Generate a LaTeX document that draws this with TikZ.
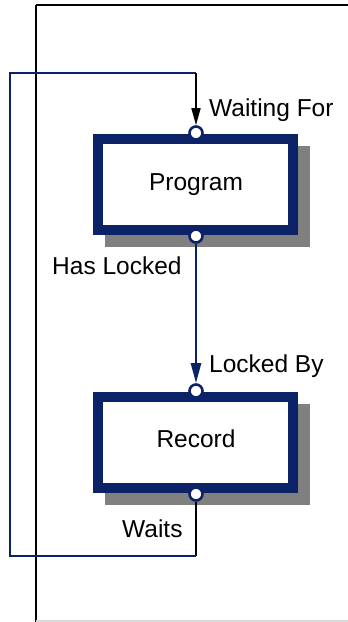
\documentclass[tikz,border=0pt]{standalone}
\usepackage{fontspec}
\setmainfont{Liberation Sans}
\usetikzlibrary{arrows.meta}
\definecolor{navy}{RGB}{11,35,102}
\definecolor{shade}{RGB}{128,128,128}
\tikzset{
  entity/.style={draw=navy, line width=10pt, fill=white, minimum width=195pt,
    minimum height=91pt, inner sep=0pt},
  shadowbox/.style={fill=shade, draw=none, minimum width=205pt,
    minimum height=101pt, inner sep=0pt},
  port/.style={circle, draw=navy, line width=2.6pt, fill=white,
    minimum size=13pt, inner sep=0pt},
  bigtext/.style={font=\fontsize{24.5}{28}\selectfont, inner sep=0pt},
  lbl/.style={bigtext, anchor=base west},
  loopline/.style={draw=navy, line width=2.6pt},
  thinblack/.style={draw=black, line width=1.6pt},
  tipblack/.style={-{Triangle[length=17pt,width=9pt]}},
}
\begin{document}
\begin{tikzpicture}[x=1pt,y=-1pt]
\useasboundingbox (0,0) rectangle (348,622);
% page frame
\draw[black, line width=1.2pt] (36,5) -- (348,5);
\draw[shade, line width=1.6pt] (36,5) -- (36,622);
\draw[black!15, line width=1.2pt] (36,621) -- (348,621);

% drop shadows
\node[shadowbox] (prgshadow) at (207,196) {};
\node[shadowbox] (recshadow) at (207,454) {};

% entities
\node[entity] (prog) at (195.5,184.5) {};
\node[entity] (rec) at (195.5,442.5) {};
\node[bigtext, anchor=base] (progtext) at (196,190.5) {Program};
\node[bigtext, anchor=base] (rectext) at (196,447.5) {Record};

% corner coordinates of the return loop
\coordinate (c1) at (196,556);
\coordinate (c2) at (10,556);
\coordinate (c3) at (10,73);
\coordinate (c4) at (196,73);

% ports
\node[port] (ptop) at (196,133) {};
\node[port] (pbot) at (196,236) {};
\node[port] (rtop) at (196,391) {};
\node[port] (rbot) at (196,494) {};

% connectors
\draw[thinblack] (rbot) -- (c1);
\draw[loopline, line join=miter] (c1) -- (c2) -- (c3) -- (c4);
\draw[thinblack, tipblack] (c4) -- (ptop);
\draw[navy, line width=2.4pt, -{Triangle[length=20pt,width=10pt]}] (pbot) -- (rtop);

% labels
\node[lbl] (waitfor) at (209,116) {Waiting For};
\node[lbl] (haslock) at (52,274) {Has Locked};
\node[lbl] (lockby) at (209,372.5) {Locked By};
\node[lbl] (waits) at (122,537) {Waits};
\end{tikzpicture}
\end{document}
